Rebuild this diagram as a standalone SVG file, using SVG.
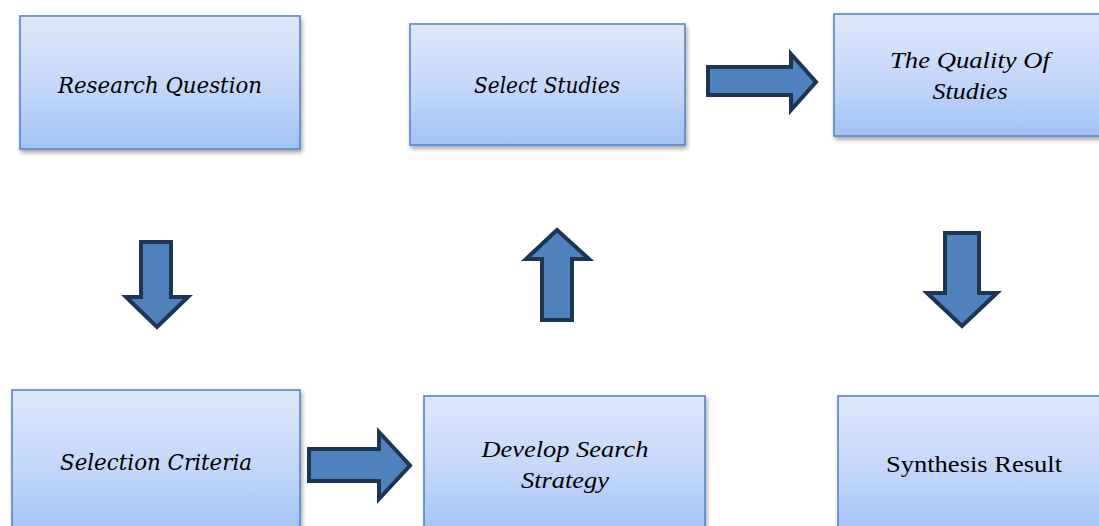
<svg xmlns="http://www.w3.org/2000/svg" width="1099" height="526" viewBox="0 0 1099 526">
  <defs>
    <linearGradient id="boxFill" x1="0" y1="0" x2="0" y2="1">
      <stop offset="0" stop-color="#dee8fb"/>
      <stop offset="0.5" stop-color="#c5d8f9"/>
      <stop offset="1" stop-color="#a3c2f5"/>
    </linearGradient>
    <filter id="shadow" x="-10%" y="-10%" width="125%" height="130%">
      <feDropShadow dx="1.5" dy="3" stdDeviation="2" flood-color="#000" flood-opacity="0.35"/>
    </filter>
  </defs>
  <style>
    .box { fill: url(#boxFill); stroke: #5685c2; stroke-width: 1.6; filter: url(#shadow); }
    .arrow { fill: #4f81bd; stroke: #1d3452; stroke-width: 4; stroke-linejoin: miter; }
    .lbl { font-family: "Liberation Serif", "Times New Roman", serif; font-size: 24px; fill: #000; text-anchor: middle; }
    .cam { font-family: "DejaVu Serif Condensed", "DejaVu Serif", serif; font-stretch: condensed; font-style: italic; font-size: 22px; fill: #000; text-anchor: middle; }
    .it { font-style: italic; }
  </style>
  <rect width="1099" height="526" fill="#fff"/>

  <g id="node-research-question">
    <rect class="box" x="20" y="16" width="280" height="133"/>
    <text class="cam" x="160" y="93" textLength="204" lengthAdjust="spacingAndGlyphs">Research Question</text>
  </g>

  <g id="node-select-studies">
    <rect class="box" x="410" y="24" width="275" height="121"/>
    <text class="cam" x="547" y="93" textLength="146" lengthAdjust="spacingAndGlyphs">Select Studies</text>
  </g>

  <g id="node-quality">
    <rect class="box" x="834" y="14" width="270" height="122"/>
    <text class="lbl it" x="970" y="68" textLength="160" lengthAdjust="spacingAndGlyphs">The Quality Of</text>
    <text class="lbl it" x="970" y="99" textLength="75" lengthAdjust="spacingAndGlyphs">Studies</text>
  </g>

  <g id="node-selection-criteria">
    <rect class="box" x="12" y="390" width="288" height="145"/>
    <text class="cam" x="156" y="470" textLength="192" lengthAdjust="spacingAndGlyphs">Selection Criteria</text>
  </g>

  <g id="node-develop-search">
    <rect class="box" x="424" y="396" width="281" height="140"/>
    <text class="lbl it" x="565" y="457" textLength="167" lengthAdjust="spacingAndGlyphs">Develop Search</text>
    <text class="lbl it" x="565" y="488" textLength="88" lengthAdjust="spacingAndGlyphs">Strategy</text>
  </g>

  <g id="node-synthesis">
    <rect class="box" x="838" y="396" width="270" height="140"/>
    <text class="lbl" x="974" y="472" textLength="176" lengthAdjust="spacingAndGlyphs">Synthesis Result</text>
  </g>

  <g id="connectors">
    <path class="arrow" d="M708,67 L791,67 L791,54 L816,82 L791,110 L791,95 L708,95 Z"/>
    <path class="arrow" d="M309,449 L379,449 L379,432 L410,465.5 L379,499 L379,481 L309,481 Z"/>
    <path class="arrow" d="M141,242 L171,242 L171,297 L188,297 L157,327 L126,297 L141,297 Z"/>
    <path class="arrow" d="M557,230 L589,259 L572,259 L572,320 L542,320 L542,259 L526,259 Z"/>
    <path class="arrow" d="M945,233 L979,233 L979,293 L997,293 L962,326 L927,293 L945,293 Z"/>
  </g>
</svg>
